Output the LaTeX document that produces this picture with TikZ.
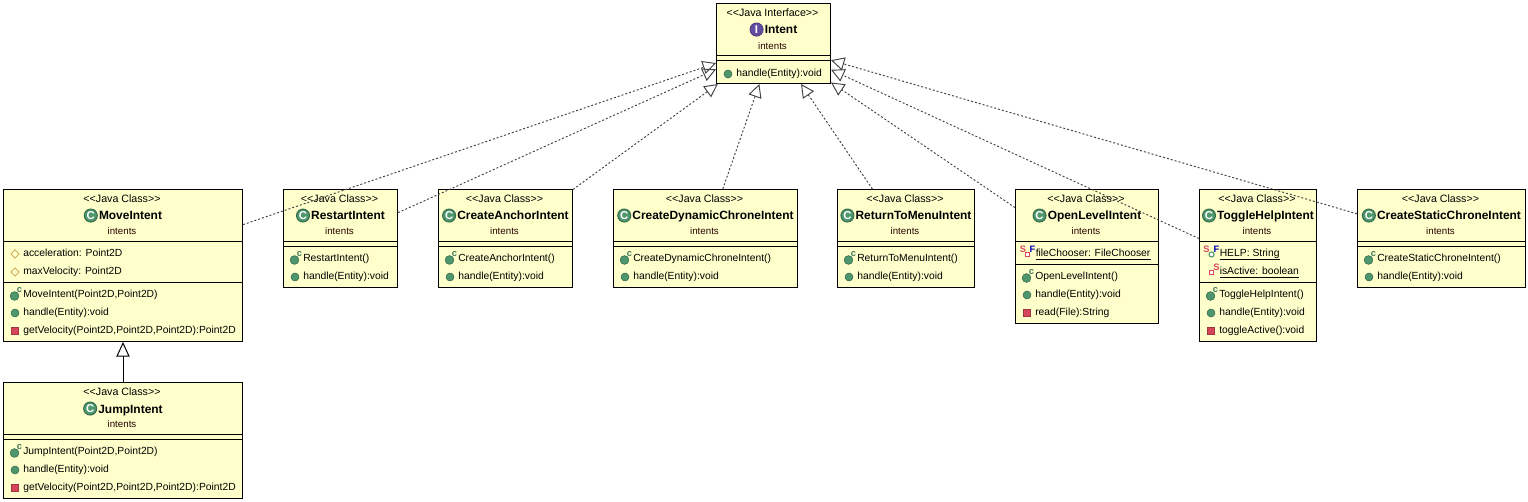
\documentclass[tikz,border=0pt]{standalone}
\usepackage{fontspec}
\setmainfont{Liberation Sans}
\usepackage{tikz}
\usetikzlibrary{arrows.meta,calc,fit,positioning,shapes.geometric}
\definecolor{boxfill}{RGB}{255,255,204}
\definecolor{classgreen}{RGB}{78,150,108}
\definecolor{ifacepurple}{RGB}{98,76,160}
\definecolor{privred}{RGB}{214,70,90}
\definecolor{protecttan}{RGB}{200,160,70}
\tikzstyle{classbox}=[draw=black, fill=boxfill, inner sep=0pt, line width=0.75pt]
\tikzstyle{sepline}=[line width=0.75pt]
\tikzstyle{stereotype}=[inner sep=0pt, font=\fontsize{8}{9}\selectfont]
\tikzstyle{classtitle}=[inner sep=0pt, text height=6.5pt, text depth=2pt, font=\fontsize{8.95}{10}\selectfont\bfseries]
\tikzstyle{pkgname}=[inner sep=0pt, font=\fontsize{7.3}{9}\selectfont, text=black!85!red]
\tikzstyle{memberlabel}=[anchor=west, inner sep=0pt, text height=6pt, text depth=2.5pt, font=\fontsize{7.75}{9}\selectfont]
\tikzstyle{classicon}=[circle, fill=classgreen, draw=classgreen!70!black, line width=0.7pt, text=white, inner sep=0pt, minimum size=9.8pt, yshift=1.1pt, font=\fontsize{8.5}{8}\selectfont\bfseries]
\tikzstyle{ifaceicon}=[classicon, fill=ifacepurple, draw=ifacepurple!80!black]
\tikzstyle{pubicon}=[circle, fill=classgreen, draw=classgreen!70!black, line width=0.4pt, inner sep=0pt, minimum size=6pt]
\tikzstyle{ctoricon}=[pubicon, minimum size=6.6pt]
\tikzstyle{privicon}=[rectangle, fill=privred, draw=privred!75!black, line width=0.4pt, inner sep=0pt, minimum size=5.2pt]
\tikzstyle{protecticon}=[diamond, draw=protecttan, line width=0.6pt, inner sep=0pt, minimum size=6.4pt]
\tikzstyle{smallpriv}=[rectangle, fill=white, draw=privred, line width=0.8pt, inner sep=0pt, minimum size=3.4pt]
\tikzstyle{smallpub}=[circle, fill=white, draw=classgreen, line width=0.8pt, inner sep=0pt, minimum size=3.8pt]
\tikzstyle{modmark}=[inner sep=0pt, font=\fontsize{7}{7}\selectfont\bfseries]
\tikzstyle{realizes}=[dash pattern=on 1.5pt off 1.5pt, draw=black!75, line width=0.7pt, -{Triangle[open,length=10pt,width=10pt]}]
\tikzstyle{extends}=[draw=black, line width=0.75pt, -{Triangle[open,length=11pt,width=10pt]}]
% name, left, right, top, bottom, first line, second line
\newcommand{\classnode}[7]{
    \node[classbox, fit={(#2,#4) (#3,#5)}] (#1) {};
    \node[stereotype] (#1-kind) at ($(#1.north)+(-1,10)$) {<{}<Java Class>{}>};
    \node[classtitle] (#1-title) at ($(#1.north)+(7.5,28)$) {#1};
    \node[classicon, left=0.7pt of #1-title] (#1-icon) {C};
    \node[pkgname] (#1-pkg) at ($(#1.north)+(-1,42.5)$) {intents};
    \draw[sepline] (#1.west |- 0,#6) -- (#1.east |- 0,#6);
    \draw[sepline] (#1.west |- 0,#7) -- (#1.east |- 0,#7);
}
% id, box, y, icon style, text
\newcommand{\member}[5]{
    \node[#4] (#1-icon) at ($(#2.west |- 0,#3)+(12,0.5)$) {};
    \node[memberlabel] (#1) at ($(#2.west |- 0,#3)+(20,0.5)$) {#5};
}
% parameters, id, box, y
\newcommand{\ctor}[4][]{
    \node[ctoricon] (#2-icon) at ($(#3.west |- 0,#4)+(11.5,1.5)$) {};
    \node[modmark, text=classgreen!80!black] (#2-c) at ($(#3.west |- 0,#4)+(16.5,-4.5)$) {c};
    \node[memberlabel] (#2) at ($(#3.west |- 0,#4)+(20,0.5)$) {#3(#1)};
}

\begin{document}
\begin{tikzpicture}[x=0.75pt, y=-0.75pt]
    \useasboundingbox (-0.5,-0.5) rectangle (1527.5,501.5);

    % interface
    \node[classbox, fit={(716,3) (830,83)}] (Intent) {};
    \node[stereotype] (Intent-kind) at ($(Intent.north)+(-1,10)$) {<{}<Java Interface>{}>};
    \node[classtitle] (Intent-title) at ($(Intent.north)+(7.5,28)$) {Intent};
    \node[ifaceicon, left=0.7pt of Intent-title] (Intent-icon) {I};
    \node[pkgname] (Intent-pkg) at ($(Intent.north)+(-1,43)$) {intents};
    \draw[sepline] (Intent.west |- 0,55) -- (Intent.east |- 0,55);
    \draw[sepline] (Intent.west |- 0,60) -- (Intent.east |- 0,60);
    \member{IntentHandle}{Intent}{73}{pubicon}{handle(Entity):void}

    % left column
    \classnode{MoveIntent}{3}{242}{189}{341}{241}{282}
    \member{moveAccel}{MoveIntent}{253}{protecticon}{acceleration: Point2D}
    \member{moveMax}{MoveIntent}{271}{protecticon}{maxVelocity: Point2D}
    \ctor[Point2D,Point2D]{moveCtor}{MoveIntent}{294}
    \member{moveHandle}{MoveIntent}{312}{pubicon}{handle(Entity):void}
    \member{moveVel}{MoveIntent}{330}{privicon}{getVelocity(Point2D,Point2D,Point2D):Point2D}

    \classnode{JumpIntent}{3}{242}{382}{498}{434}{439}
    \ctor[Point2D,Point2D]{jumpCtor}{JumpIntent}{451}
    \member{jumpHandle}{JumpIntent}{469}{pubicon}{handle(Entity):void}
    \member{jumpVel}{JumpIntent}{487}{privicon}{getVelocity(Point2D,Point2D,Point2D):Point2D}

    % plain commands
    \classnode{RestartIntent}{283}{397}{189}{287}{241}{246}
    \ctor{restartCtor}{RestartIntent}{258}
    \member{restartHandle}{RestartIntent}{276}{pubicon}{handle(Entity):void}

    \classnode{CreateAnchorIntent}{438}{572}{189}{287}{241}{246}
    \ctor{anchorCtor}{CreateAnchorIntent}{258}
    \member{anchorHandle}{CreateAnchorIntent}{276}{pubicon}{handle(Entity):void}

    \classnode{CreateDynamicChroneIntent}{613}{797}{189}{287}{241}{246}
    \ctor{dynamicCtor}{CreateDynamicChroneIntent}{258}
    \member{dynamicHandle}{CreateDynamicChroneIntent}{276}{pubicon}{handle(Entity):void}

    \classnode{ReturnToMenuIntent}{837}{974}{189}{287}{241}{246}
    \ctor{menuCtor}{ReturnToMenuIntent}{258}
    \member{menuHandle}{ReturnToMenuIntent}{276}{pubicon}{handle(Entity):void}

    % commands with fields
    \classnode{OpenLevelIntent}{1015}{1158}{189}{323}{241}{264}
    \node[memberlabel] (openChooser) at (1035,253.5) {fileChooser: FileChooser};
    \node[smallpriv] (openChooser-icon) at (1027,254) {};
    \node[modmark, text=privred] (openChooser-s) at (1022.5,249) {S};
    \node[modmark, text=blue!70!black] (openChooser-f) at (1032,249) {F};
    \draw[sepline] (openChooser.south west) -- (openChooser.south east);
    \ctor{openCtor}{OpenLevelIntent}{276}
    \member{openHandle}{OpenLevelIntent}{294}{pubicon}{handle(Entity):void}
    \member{openRead}{OpenLevelIntent}{312}{privicon}{read(File):String}

    \classnode{ToggleHelpIntent}{1199}{1316}{189}{341}{241}{282}
    \node[memberlabel] (toggleHelp) at (1219,253.5) {HELP: String};
    \node[smallpub] (toggleHelp-icon) at (1211,254) {};
    \node[modmark, text=privred] (toggleHelp-s) at (1206,249) {S};
    \node[modmark, text=blue!70!black] (toggleHelp-f) at (1216,249) {F};
    \draw[sepline] (toggleHelp.south west) -- (toggleHelp.south east);
    \node[memberlabel] (toggleActive) at (1219,271.5) {isActive: boolean};
    \node[smallpriv] (toggleActive-icon) at (1211,272) {};
    \node[modmark, text=privred] (toggleActive-s) at (1216,267) {S};
    \draw[sepline] (toggleActive.south west) -- (toggleActive.south east);
    \ctor{toggleCtor}{ToggleHelpIntent}{294}
    \member{toggleHandle}{ToggleHelpIntent}{312}{pubicon}{handle(Entity):void}
    \member{toggleMethod}{ToggleHelpIntent}{330}{privicon}{toggleActive():void}

    \classnode{CreateStaticChroneIntent}{1357}{1525}{189}{287}{241}{246}
    \ctor{staticCtor}{CreateStaticChroneIntent}{258}
    \member{staticHandle}{CreateStaticChroneIntent}{276}{pubicon}{handle(Entity):void}

    % Connect the nodes
    \path
        (JumpIntent) edge [extends] (MoveIntent)
        (MoveIntent) edge [realizes] (Intent)
        (RestartIntent) edge [realizes] (Intent)
        (CreateAnchorIntent) edge [realizes] (Intent)
        (CreateDynamicChroneIntent) edge [realizes] (Intent)
        (ReturnToMenuIntent) edge [realizes] (Intent)
        (OpenLevelIntent) edge [realizes] (Intent)
        (ToggleHelpIntent) edge [realizes] (Intent)
        (CreateStaticChroneIntent) edge [realizes] (Intent)
        ;
\end{tikzpicture}
\end{document}
